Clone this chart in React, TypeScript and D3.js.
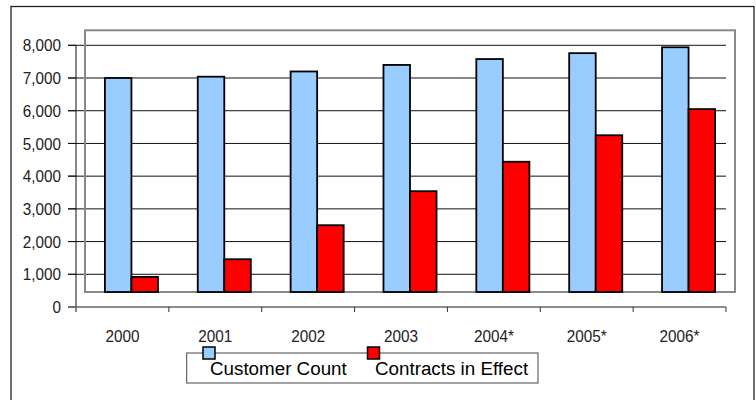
import React from "react";
import * as d3 from "d3";

// Yearly figures (* = projected)
const years = ["2000", "2001", "2002", "2003", "2004*", "2005*", "2006*"];
const customerCount = [7000, 7040, 7200, 7400, 7580, 7760, 7940];
const contractsInEffect = [920, 1460, 2500, 3540, 4440, 5250, 6050];
const seriesNames = ["Customer Count", "Contracts in Effect"];
const seriesColors = ["#99CCFF", "#FF0000"];
const yTicks = [0, 1000, 2000, 3000, 4000, 5000, 6000, 7000, 8000];

const W = 756;
const H = 400;
const axisLeft = 76;
const axisRight = 726;
const axisTop = 45.3;
const axisBottom = 307;
// back-wall offset of the plot area
const depthX = 9;
const depthY = -15;

const tickFont = "'Liberation Sans', Arial, sans-serif";
const tickSize = 17;
const tickSqueeze = 0.9;

export default function App() {
  const x = d3.scaleBand<string>().domain(years).range([axisLeft, axisRight]);
  const y = d3.scaleLinear().domain([0, 8000]).range([axisBottom, axisTop]);
  const bw = x.bandwidth();
  const barW = bw / (2 + 1.5);
  const gap = barW * 1.5;
  const fmt = d3.format(",");
  const barBase = y(0) + depthY;
  const series = [customerCount, contractsInEffect];

  return (
    <svg
      width={W}
      height={H}
      style={{ position: "absolute", left: 0, top: 0, background: "#fff" }}
    >
      {/* chart frame */}
      <rect x={11} y={6.5} width={743} height={400} fill="#fff" stroke="#222" strokeWidth={1.3} />

      {/* gridlines */}
      {yTicks.slice(1).map((t) => (
        <line key={t} x1={68} x2={axisRight} y1={y(t)} y2={y(t)} stroke="#111" strokeWidth={1} />
      ))}

      {/* plot area wall */}
      <rect
        x={axisLeft + depthX}
        y={axisTop + depthY}
        width={axisRight - axisLeft}
        height={axisBottom - axisTop}
        fill="none"
        stroke="#8a8a8a"
        strokeWidth={2}
      />

      {/* bars */}
      {series.map((vals, si) =>
        vals.map((v, i) => {
          const x0 = (x(years[i]) as number) + gap / 2 + si * barW + depthX;
          return (
            <rect
              key={`${si}-${i}`}
              x={x0}
              y={y(v)}
              width={barW}
              height={barBase - y(v)}
              fill={seriesColors[si]}
              stroke="#000"
              strokeWidth={1.8}
            />
          );
        })
      )}

      {/* y axis */}
      <line x1={axisLeft} x2={axisLeft} y1={axisTop} y2={axisBottom + 5} stroke="#111" strokeWidth={1} />
      {yTicks.map((t) => (
        <g key={t}>
          <line x1={68} x2={axisLeft} y1={y(t)} y2={y(t)} stroke="#111" strokeWidth={1} />
          <text
            transform={`translate(61,${y(t)}) scale(${tickSqueeze},1)`}
            dy="0.36em"
            textAnchor="end"
            fontFamily={tickFont}
            fontSize={tickSize}
            fill="#222"
          >
            {fmt(t)}
          </text>
        </g>
      ))}

      {/* x axis */}
      <line x1={68} x2={axisRight} y1={axisBottom} y2={axisBottom} stroke="#666" strokeWidth={1.5} />
      {years.map((yr, i) => (
        <line
          key={yr}
          x1={axisLeft + (i + 1) * bw}
          x2={axisLeft + (i + 1) * bw}
          y1={axisBottom}
          y2={axisBottom + 5}
          stroke="#333"
          strokeWidth={1}
        />
      ))}
      {years.map((yr) => (
        <text
          key={yr}
          transform={`translate(${(x(yr) as number) + bw / 2},341.5) scale(${tickSqueeze},1)`}
          textAnchor="middle"
          fontFamily={tickFont}
          fontSize={tickSize}
          fill="#222"
        >
          {yr}
        </text>
      ))}

      {/* legend */}
      <rect x={186.7} y={353} width={351.3} height={30} fill="#fff" stroke="#444" strokeWidth={1} />
      {seriesNames.map((name, si) => {
        const mx = si === 0 ? 203 : 367.5;
        const tx = si === 0 ? 210 : 375;
        return (
          <g key={name}>
            <rect x={mx} y={347} width={12} height={12} fill={seriesColors[si]} stroke="#000" strokeWidth={1.5} />
            <text x={tx} y={375} fontFamily="'Liberation Sans', Arial, sans-serif" fontSize={18.8} fill="#000">
              {name}
            </text>
          </g>
        );
      })}
    </svg>
  );
}
